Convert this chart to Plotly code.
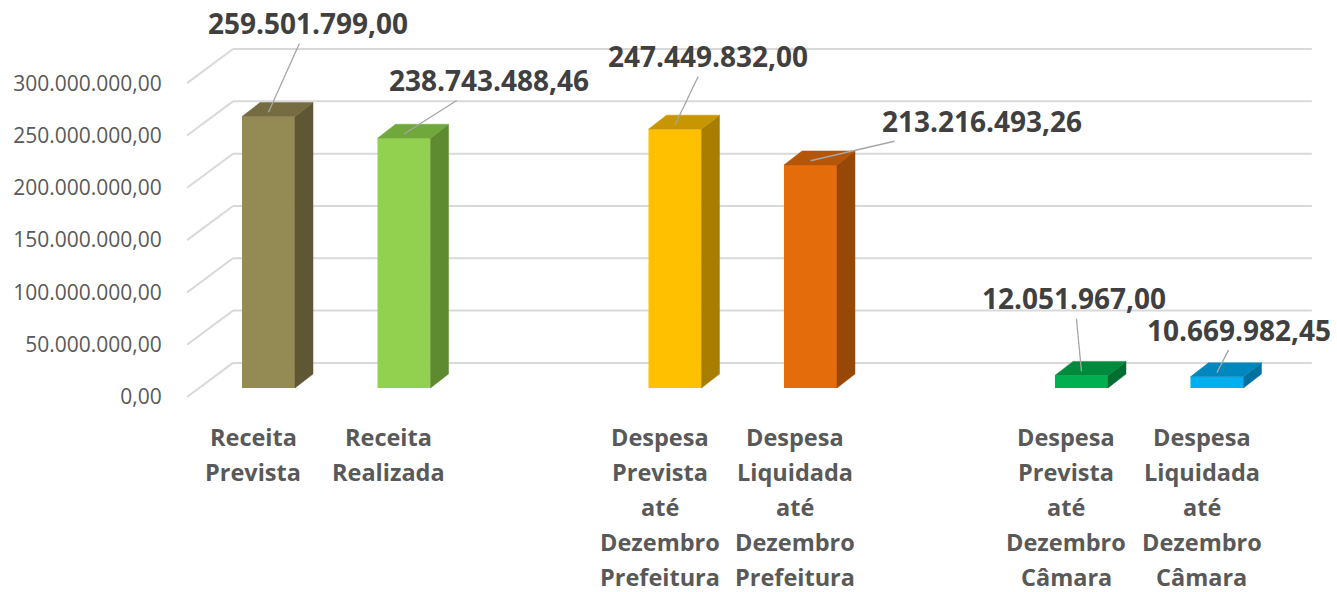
import plotly.graph_objects as go

# ---------------- data ----------------
CATEGORY_LINES = [
    ["Receita", "Prevista"],
    ["Receita", "Realizada"],
    ["Despesa", "Prevista", "até", "Dezembro", "Prefeitura"],
    ["Despesa", "Liquidada", "até", "Dezembro", "Prefeitura"],
    ["Despesa", "Prevista", "até", "Dezembro", "Câmara"],
    ["Despesa", "Liquidada", "até", "Dezembro", "Câmara"],
]
# category slot of each bar (the original chart has two blank categories)
SLOTS = [0, 1, 3, 4, 6, 7]
VALUES = [259501799.00, 238743488.46, 247449832.00, 213216493.26, 12051967.00, 10669982.45]
TICK_VALUES = [0, 50e6, 100e6, 150e6, 200e6, 250e6, 300e6]

# ---------------- style ----------------
FRONT_COLORS = ["#948A54", "#92D050", "#FFC000", "#E46C0A", "#00B050", "#00B0F0"]
SIDE_COLORS = ["#5F5734", "#5E8A30", "#A87E00", "#974806", "#006E30", "#0070A0"]
TOP_COLORS = ["#766C42", "#71A83C", "#C79600", "#B45508", "#008A3C", "#0088BE"]
LABEL_OFFSETS = [(40, -89), (85, -54), (33, -69), (172, -40), (-7, -73), (22, -43)]

BAR_W = 0.391          # bar width in category units
DX = 0.133             # 3D depth, x
DY = 13.4e6            # 3D depth, y
BACK_RISE = 24e6       # back wall offset above bar baseline
FRONT_DROP = 8.6e6     # front floor edge offset below bar baseline
FRONT_X = -0.601
BACK_X = -0.262
GRID_X1 = 7.70
GRID_COLOR = "#D9D9D9"
FONT = "Open Sans"


def br(v):
    s = f"{v:,.2f}"
    return s.replace(",", "#").replace(".", ",").replace("#", ".")


fig = go.Figure()

# front faces
fig.add_trace(go.Bar(
    x=SLOTS, y=VALUES, width=BAR_W,
    marker=dict(color=FRONT_COLORS, line=dict(width=0)),
    hoverinfo="skip",
))

# side and top faces
for s, v, sc, tc in zip(SLOTS, VALUES, SIDE_COLORS, TOP_COLORS):
    r = s + BAR_W / 2
    l = s - BAR_W / 2
    fig.add_trace(go.Scatter(
        x=[r, r + DX, r + DX, r, r], y=[0, DY, v + DY, v, 0],
        fill="toself", fillcolor=sc, mode="lines",
        line=dict(width=0.5, color=sc), hoverinfo="skip",
    ))
    fig.add_trace(go.Scatter(
        x=[l, r, r + DX, l + DX, l], y=[v, v, v + DY, v + DY, v],
        fill="toself", fillcolor=tc, mode="lines",
        line=dict(width=0.5, color=tc), hoverinfo="skip",
    ))

# gridlines (back wall + floor side)
shapes = []
for v in TICK_VALUES:
    shapes.append(dict(type="line", xref="x", yref="y", layer="below",
                       x0=BACK_X, y0=v + BACK_RISE, x1=GRID_X1, y1=v + BACK_RISE,
                       line=dict(color=GRID_COLOR, width=2)))
    shapes.append(dict(type="line", xref="x", yref="y", layer="below",
                       x0=FRONT_X, y0=v - FRONT_DROP, x1=BACK_X, y1=v + BACK_RISE,
                       line=dict(color=GRID_COLOR, width=2)))

annotations = []
# data labels with leader lines
for s, v, (ax, ay) in zip(SLOTS, VALUES, LABEL_OFFSETS):
    annotations.append(dict(
        x=s, y=v + 0.3 * DY, xref="x", yref="y",
        text=br(v), showarrow=True, arrowhead=0, arrowwidth=1.3,
        arrowcolor="#A6A6A6", ax=ax, ay=ay, standoff=0,
        font=dict(family=FONT, size=28, color="#404040", weight="bold"),
    ))

# category labels, one annotation per line
for s, lines in zip(SLOTS, CATEGORY_LINES):
    for i, txt in enumerate(lines):
        annotations.append(dict(
            x=s, y=0, xref="x", yref="y", text=txt, showarrow=False,
            xanchor="center", yanchor="middle", xshift=-15, yshift=-(49 + 35.0 * i),
            font=dict(family=FONT, size=23.5, color="#595959", weight="bold"),
        ))

fig.update_layout(
    width=1337, height=592,
    margin=dict(l=175, r=0, t=0, b=0),
    paper_bgcolor="white", plot_bgcolor="white",
    showlegend=False,
    shapes=shapes, annotations=annotations,
    xaxis=dict(range=[-0.690, 7.886], visible=False, fixedrange=True, automargin=False),
    yaxis=dict(
        range=[-195.0e6, 370.9e6],
        tickvals=[v - FRONT_DROP for v in TICK_VALUES],
        ticktext=[br(v) for v in TICK_VALUES],
        showgrid=False, zeroline=False, showline=False,
        ticks="outside", ticklen=8, tickcolor="rgba(0,0,0,0)",
        tickfont=dict(family=FONT, size=21, color="#595959"),
        fixedrange=True, automargin=False,
    ),
)

fig.write_html(
    "out.html",
    config={"displayModeBar": False, "staticPlot": True},
    post_script="document.body.style.margin='0';document.body.style.overflow='hidden';",
)
